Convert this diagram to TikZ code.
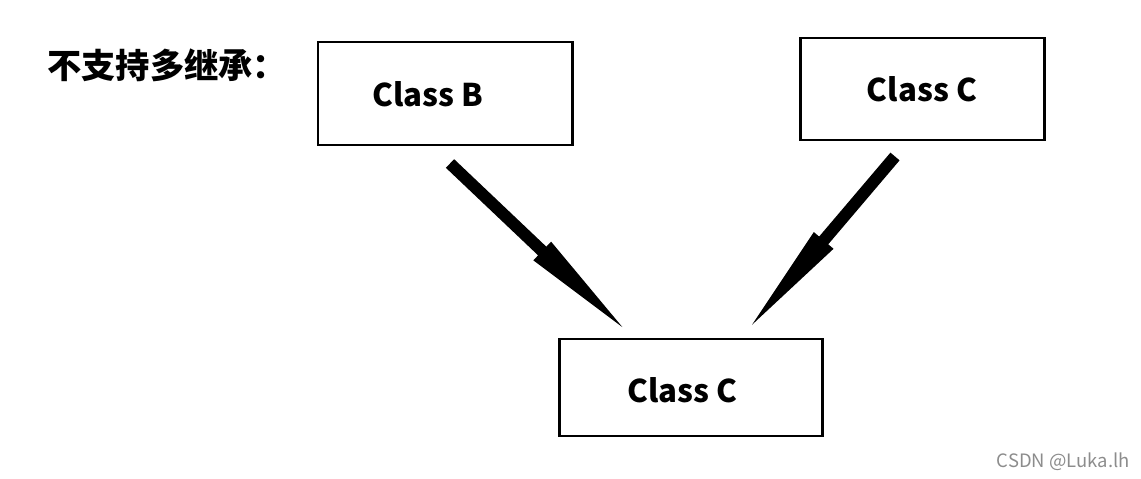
\documentclass[tikz,border=0pt]{standalone}
\usepackage{fontspec}
\setmainfont{Noto Sans CJK SC}
\usetikzlibrary{arrows.meta,calc}
\begin{document}
\begin{tikzpicture}[x = 0.02cm, y = -0.02cm,
        classbox/.style = {draw, line width = 1.7pt, inner sep = 0pt},
        classname/.style = {inner sep = 0pt, font = \fontsize{17.8}{22}\selectfont\bfseries},
        fatarrow/.style = {line width = 6.8pt, -{Triangle[length = 74pt, width = 12.5pt]}}]
            \useasboundingbox (0, 0) rectangle (1141, 479);
            \node [anchor = west, inner sep = 0pt, font = \fontsize{19.5}{23}\selectfont\bfseries] (title) at (47, 65) {不支持多继承：};
            \node [classbox, minimum width = 254*0.02cm, minimum height = 103*0.02cm] (classB) at (445, 93.5) {};
            \node [classbox, minimum width = 244*0.02cm, minimum height = 102*0.02cm] (classCtop) at (922, 89) {};
            \node [classbox, minimum width = 263*0.02cm, minimum height = 97*0.02cm] (classCbot) at (690.5, 387.5) {};
            \node [classname] (nameB) at ($(classB) + (-17, 1)$) {Class B};
            \node [classname] (nameCtop) at ($(classCtop) + (0, 0)$) {Class C};
            \node [classname] (nameCbot) at ($(classCbot) + (-8, 3)$) {Class C};
            \draw [fatarrow] ($(classB.south) + (5, 17)$) -- ($(classCbot.north) + (-54, 3)$);
            \draw [fatarrow] ($(classCtop.south) + (-27, 15)$) -- ($(classCbot.north) + (49, 2)$);
            \node [anchor = east, inner sep = 0pt, text = black!45, font = \fontsize{10.5}{12}\selectfont] (mark) at (1130, 462) {CSDN @Luka.lh};
        \end{tikzpicture}
\end{document}
